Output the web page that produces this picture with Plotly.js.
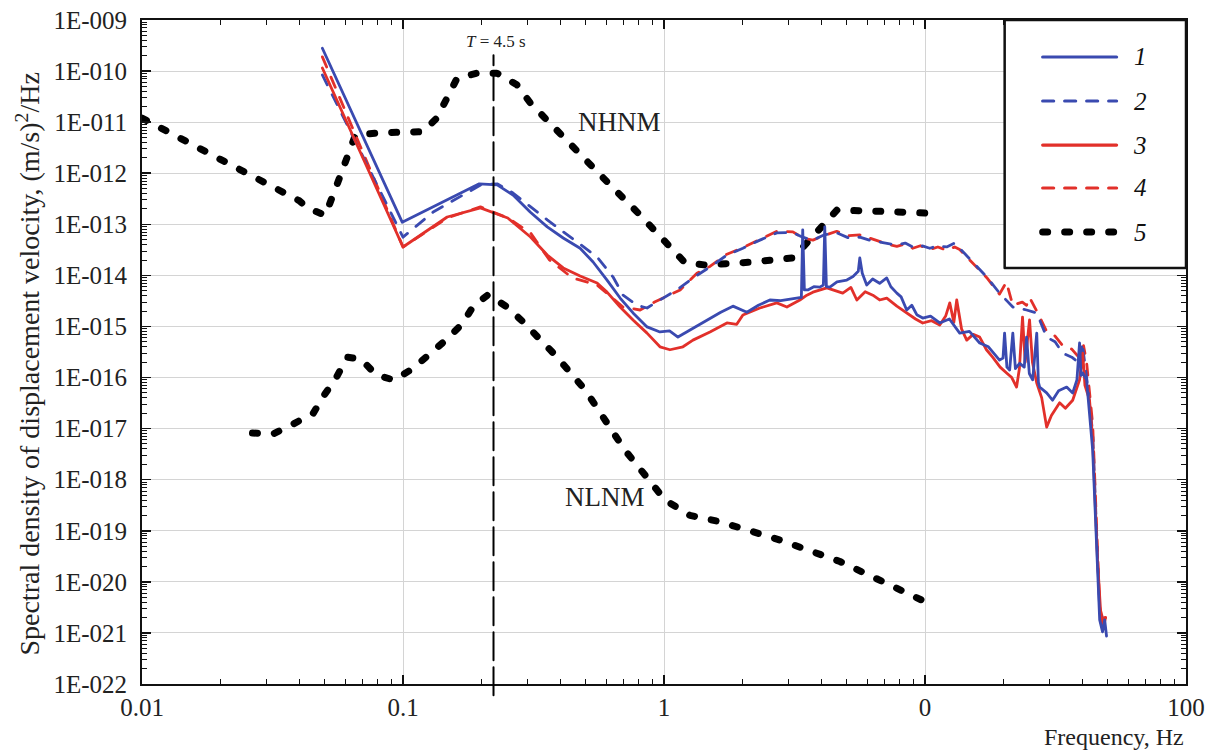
<!DOCTYPE html>
<html><head><meta charset="utf-8">
<script src="https://cdn.plot.ly/plotly-3.0.1.min.js"></script>
<style>body{margin:0;background:#fff}#chart{width:1213px;height:751px}</style>
</head><body><div id="chart"></div>
<script>
// ---- data (frequency in Hz, spectral density in (m/s)^2/Hz) ----
var s1Freq = [0.0491,0.0993,0.196,0.2295,0.264,0.307,0.357,0.411,0.477,0.535,0.605,0.679,0.761,0.861,0.965,1.05,1.131,1.257,1.50,1.65,1.837,2.078,2.3,2.545,2.8,3.1,3.316,3.36,3.40,3.45,3.557,3.75,3.955,4.08,4.13,4.19,4.319,4.6,5.017,5.3,5.55,5.626,5.75,5.98,6.3,6.7,7.137,7.4,7.8,8.1,8.51,8.9,9.3,9.8,10.5,11.39,12.4,13.58,14.8,16.2,17.5,19.3,19.9,20.18,20.6,21.1,21.7,22.2,23.05,24.0,24.5,25.1,25.85,26.8,27.2,27.5,29.25,30.8,32.5,34.9,36.8,38.2,39.1,39.6,40.2,41.6,43.9,45.4,46.7,47.9,48.8,49.6];
var s1Psd  = [2.8e-10,1.1e-13,6.2e-13,5.9e-13,3.75e-13,1.74e-13,8.9e-14,5.4e-14,3.4e-14,1.83e-14,8.1e-15,3.6e-15,1.84e-15,9.8e-16,7.8e-16,8.2e-16,6.2e-16,8.5e-16,1.47e-15,1.9e-15,2.5e-15,1.9e-15,2.6e-15,3.3e-15,3.2e-15,3.5e-15,3.6e-15,3.7e-15,7.8e-14,5.2e-15,5.2e-15,6e-15,5.9e-15,6.5e-15,8.9e-14,6e-15,5.9e-15,7.5e-15,8.1e-15,9.5e-15,1.2e-14,2.2e-14,1.1e-14,6.5e-15,8.5e-15,7e-15,8.9e-15,6e-15,4.5e-15,3.8e-15,2.1e-15,2.6e-15,1.7e-15,1.46e-15,1.6e-15,1.17e-15,1.4e-15,7.4e-16,8e-16,4.75e-16,4e-16,2.2e-16,2.4e-16,7.4e-16,1.6e-16,1.4e-16,7.4e-16,1.5e-16,1.9e-16,1.6e-16,6.2e-16,1.2e-16,9e-17,7.4e-16,8e-17,6.5e-17,5e-17,3.6e-17,5.5e-17,6.5e-17,5e-17,9e-17,4.75e-16,1.1e-16,1.23e-16,9e-17,3.8e-18,4.2e-20,1.8e-21,1.05e-21,1.8e-21,8.7e-22];

var s2Freq = [0.0491,0.1,0.1305,0.1984,0.2295,0.264,0.357,0.554,0.638,0.697,0.788,0.861,0.965,1.121,1.291,1.50,1.742,2.006,2.33,2.705,3.118,3.40,3.72,4.1,4.59,5.1,5.626,6.2,6.71,7.3,7.80,8.4,8.98,9.6,10.43,11.2,12.11,13.0,13.58,15.24,17.25,19.3,21.7,24.5,26.8,29.25,31.5,33.7,36.5,39.1,40.0,41.6,43.9,46.7,48.5];
var s2Psd  = [8.4e-11,5.6e-14,1.74e-13,5.9e-13,6.2e-13,4.1e-13,1.22e-13,2.3e-14,9.3e-15,4.1e-15,2.6e-15,2.3e-15,3.3e-15,5.2e-15,8.9e-15,1.46e-14,2.5e-14,3.4e-14,4.9e-14,6.8e-14,6.9e-14,5.6e-14,4.9e-14,6.2e-14,6.8e-14,5.4e-14,5.6e-14,4.8e-14,4.5e-14,4.2e-14,3.9e-14,4.3e-14,3.6e-14,3.9e-14,3.4e-14,3.8e-14,3.6e-14,4.3e-14,3.4e-14,1.8e-14,9.3e-15,4.5e-15,2.4e-15,2.1e-15,1.84e-15,6.2e-16,5e-16,3e-16,2.5e-16,1.9e-16,4.8e-16,1.02e-16,8.2e-18,2.8e-21,1.15e-21];

var s3Freq = [0.0491,0.1,0.1477,0.198,0.252,0.308,0.357,0.411,0.477,0.554,0.605,0.679,0.761,0.861,0.965,1.054,1.182,1.291,1.50,1.742,1.9,2.006,2.33,2.705,2.957,3.316,3.527,3.72,4.207,4.84,5.2,5.48,5.9,6.31,6.7,7.137,7.8,8.51,9.2,9.80,10.6,11.39,12.0,12.44,12.9,13.23,13.8,14.45,15.3,16.2,17.2,18.16,19.4,20.54,21.5,22.43,23.0,23.64,24.2,25.15,25.8,26.8,28.0,29.25,30.5,32.8,34.5,36.8,39.1,40.2,41.0,42.7,43.9,45.8,47.4,48.5,49.2];
var s3Psd  = [1.15e-10,3.6e-14,1.39e-13,2.1e-13,1.33e-13,5.65e-14,2.5e-14,1.4e-14,9.7e-15,7.1e-15,4.7e-15,2.4e-15,1.34e-15,7.4e-16,4e-16,3.5e-16,4e-16,5.4e-16,7.8e-16,1.17e-15,1.1e-15,1.68e-15,2.3e-15,2.9e-15,2.4e-15,3.3e-15,4.1e-15,4.7e-15,5.7e-15,4.5e-15,5.8e-15,3.3e-15,4.8e-15,4.1e-15,3.3e-15,3.6e-15,2.5e-15,1.84e-15,1.4e-15,1.17e-15,1.3e-15,1.07e-15,1.6e-15,2.9e-15,1.2e-15,3.3e-15,9e-16,5.4e-16,7e-16,6.2e-16,3.5e-16,2.5e-16,1.6e-16,1.23e-16,1e-16,6.5e-17,1.5e-16,1.53e-15,2e-16,1.34e-15,2e-16,7.8e-17,4e-17,1.07e-17,1.8e-17,3.2e-17,2.5e-17,3.6e-17,9e-17,3e-16,7e-17,3.6e-17,6e-18,2.7e-20,1.45e-21,2e-21,2e-21];

var s4Freq = [0.0491,0.1,0.1477,0.198,0.252,0.308,0.364,0.446,0.554,0.622,0.697,0.81,0.92,1.153,1.337,1.50,1.742,2.006,2.33,2.705,3.118,3.40,3.72,4.1,4.59,5.1,5.626,6.2,6.71,7.3,7.80,8.4,8.98,9.6,10.43,11.2,12.11,13.0,13.58,15.24,17.25,19.3,20.5,21.7,23.6,24.5,25.15,26.8,29.25,31.5,33.7,36.5,39.1,40.5,41.6,43.9,46.7,48.5,49.2];
var s4Psd  = [1.9e-10,3.6e-14,1.33e-13,2.2e-13,1.33e-13,6.8e-14,2e-14,8.9e-15,6.5e-15,4e-15,2.4e-15,2.1e-15,3e-15,5.2e-15,1.1e-14,1.5e-14,2.6e-14,3.5e-14,5.1e-14,7.3e-14,7.1e-14,5.4e-14,4.9e-14,6e-14,7.3e-14,6e-14,6.2e-14,5.2e-14,4.6e-14,4e-14,3.7e-14,4.1e-14,3.4e-14,3.8e-14,3.2e-14,3.6e-14,3.1e-14,3.6e-14,3.2e-14,1.7e-14,9e-15,4.3e-15,7.4e-15,2.6e-15,3e-15,2.6e-15,3.7e-15,2e-15,8e-16,6.5e-16,4.2e-16,3.6e-16,2.4e-16,4.2e-16,2e-16,1.2e-17,3.2e-21,1.5e-21,2e-21];

var nhnmFreq = [0.01,0.02,0.03,0.04,0.043,0.0504,0.058,0.0657,0.0818,0.0993,0.119,0.1348,0.147,0.161,0.192,0.229,0.273,0.307,0.35,0.407,0.5275,0.605,0.796,1.045,1.20,1.43,2.1,3.12,4.03,4.6,6.7,9.98];
var nhnmPsd  = [1.2e-11,1.8e-12,6.2e-13,2.9e-13,2.1e-13,1.5e-13,1e-12,5.6e-12,6.2e-12,6.2e-12,6.5e-12,1.2e-11,3.1e-11,7.2e-11,9.1e-11,9.1e-11,5.4e-11,2.4e-11,1.2e-11,5.6e-12,1.45e-12,6.8e-13,1.66e-13,4e-14,1.8e-14,1.6e-14,1.8e-14,2.2e-14,9.8e-14,1.9e-13,1.8e-13,1.66e-13];

var nlnmFreq = [0.0265,0.0319,0.038,0.0453,0.050,0.0555,0.0612,0.069,0.079,0.0926,0.109,0.126,0.1465,0.1687,0.186,0.212,0.2505,0.2885,0.383,0.498,0.594,0.708,0.846,1.009,1.257,1.64,2.78,4.72,7.33,10.0];
var nlnmPsd  = [8.2e-18,7.9e-18,1.23e-17,2e-17,4.6e-17,1e-16,2.5e-16,2.3e-16,1.12e-16,8.9e-17,1.5e-16,2.75e-16,5.5e-16,1.12e-15,2.5e-15,4.2e-15,2.4e-15,1.23e-15,2.75e-16,5.8e-17,1.5e-17,3.8e-18,1.23e-18,4e-19,2e-19,1.5e-19,6.6e-20,2.5e-20,8.7e-21,4.1e-21];

var periodT = 4.5; // s
var legendLabels = ['1','2','3','4','5'];
var xTickVals = [0.01,0.1,1,10,100];
var xTickText = ['0.01','0.1','1','0','100'];
var yTickVals = [1e-22,1e-21,1e-20,1e-19,1e-18,1e-17,1e-16,1e-15,1e-14,1e-13,1e-12,1e-11,1e-10,1e-9];
var yTickText = ['1E-022','1E-021','1E-020','1E-019','1E-018','1E-017','1E-016','1E-015','1E-014','1E-013','1E-012','1E-011','1E-010','1E-009'];

// ---- styles ----
var BLUE = '#3a4ab0', RED = '#e2302a';
var styles = [
  {color:BLUE, dash:'solid', width:2.8},
  {color:BLUE, dash:'11px,11px', width:2.8},
  {color:RED, dash:'solid', width:2.8},
  {color:RED, dash:'11px,11px', width:2.8},
  {color:'#000', dash:'5px,17px', width:7}
];

function tr(x, y, st, name){
  return {type:'scatter', mode:'lines', x:x, y:y, name:name,
          line:{color:st.color, dash:st.dash, width:st.width}, hoverinfo:'skip'};
}
var data = [
  tr(nhnmFreq, nhnmPsd, styles[4], 'NHNM'),
  tr(nlnmFreq, nlnmPsd, styles[4], 'NLNM'),
  tr(s4Freq, s4Psd, styles[3], legendLabels[3]),
  tr(s2Freq, s2Psd, styles[1], legendLabels[1]),
  tr(s3Freq, s3Psd, styles[2], legendLabels[2]),
  tr(s1Freq, s1Psd, styles[0], legendLabels[0])
];

var SERIF = '"Liberation Serif","Times New Roman",Times,serif';
var xPaper = function(f){ return (Math.log10(f) + 2) / 4; };

var shapes = [];
var annotations = [];
function note(x, y, text, size, extra){
  var a = {xref:'paper', yref:'paper', x:x, y:y, text:text, showarrow:false,
    xanchor:'center', yanchor:'middle', font:{size:size, family:SERIF, color:'#222'}};
  return Object.assign(a, extra || {});
}
// vertical period marker
shapes.push({type:'line', xref:'paper', yref:'paper', x0:xPaper(1/periodT), x1:xPaper(1/periodT),
  y0:-0.017, y1:0.947, line:{color:'#000', width:2, dash:'28px,7px'}});
annotations.push(note(xPaper(1/periodT)+0.002, 0.967, '<i>T</i> = 4.5 s', 17));
annotations.push(note(0.457, 0.846, 'NHNM', 27));
annotations.push(note(0.4435, 0.282, 'NLNM', 27));
annotations.push(note(1.0, -0.08, 'Frequency, Hz', 24, {xanchor:'right'}));
annotations.push(note(-0.1086, 0.482, 'Spectral density of displacement velocity, (m/s)<sup>2</sup>/Hz', 28, {textangle:-90}));

// legend box
shapes.push({type:'rect', xref:'paper', yref:'paper', x0:0.8263, x1:1.0, y0:0.6265, y1:1.0,
  line:{color:'#111', width:2.5}, fillcolor:'#fff', layer:'above'});
var rowsY = [0.9443, 0.8780, 0.8117, 0.7470, 0.6807];
for (var i = 0; i < 5; i++) {
  var st = styles[i];
  shapes.push({type:'line', xref:'paper', yref:'paper', x0:0.8627, x1:0.9335, y0:rowsY[i], y1:rowsY[i],
    line:{color:st.color, width:(i===4?7:3.2), dash:st.dash}, layer:'above'});
  annotations.push(note(0.956, rowsY[i], '<i>'+legendLabels[i]+'</i>', 25, {font:{size:25, family:SERIF, color:'#111'}}));
}

var axisCommon = {
  type:'log', showline:true, linecolor:'#111', linewidth:2, mirror:'allticks',
  ticks:'inside', ticklen:9, tickwidth:1.5, tickcolor:'#111',
  showgrid:true, gridcolor:'#d4d4d4', gridwidth:1, zeroline:false,
  minor:{ticks:'inside', ticklen:5, tickwidth:1, tickcolor:'#111', dtick:'D1', showgrid:false},
  tickfont:{size:25, family:SERIF, color:'#222'}
};
var layout = {
  width:1213, height:751,
  margin:{l:142, r:27, t:20, b:67, pad:0},
  paper_bgcolor:'#fff', plot_bgcolor:'#fff',
  font:{family:SERIF, color:'#222'},
  showlegend:false,
  xaxis:Object.assign({}, axisCommon, {range:[-2,2], tickmode:'array', tickvals:xTickVals, ticktext:xTickText}),
  yaxis:Object.assign({}, axisCommon, {range:[-22,-9], tickmode:'array', tickvals:yTickVals, ticktext:yTickText,
    ticklabelstandoff:8}),
  shapes:shapes, annotations:annotations
};

Plotly.newPlot('chart', data, layout, {staticPlot:true}).then(function(gd){
  var paths = gd.querySelectorAll('.scatterlayer path.js-line, .shapelayer path');
  paths.forEach(function(p){ p.style.strokeLinecap = 'round'; p.style.strokeLinejoin = 'round'; });
});
</script></body></html>
